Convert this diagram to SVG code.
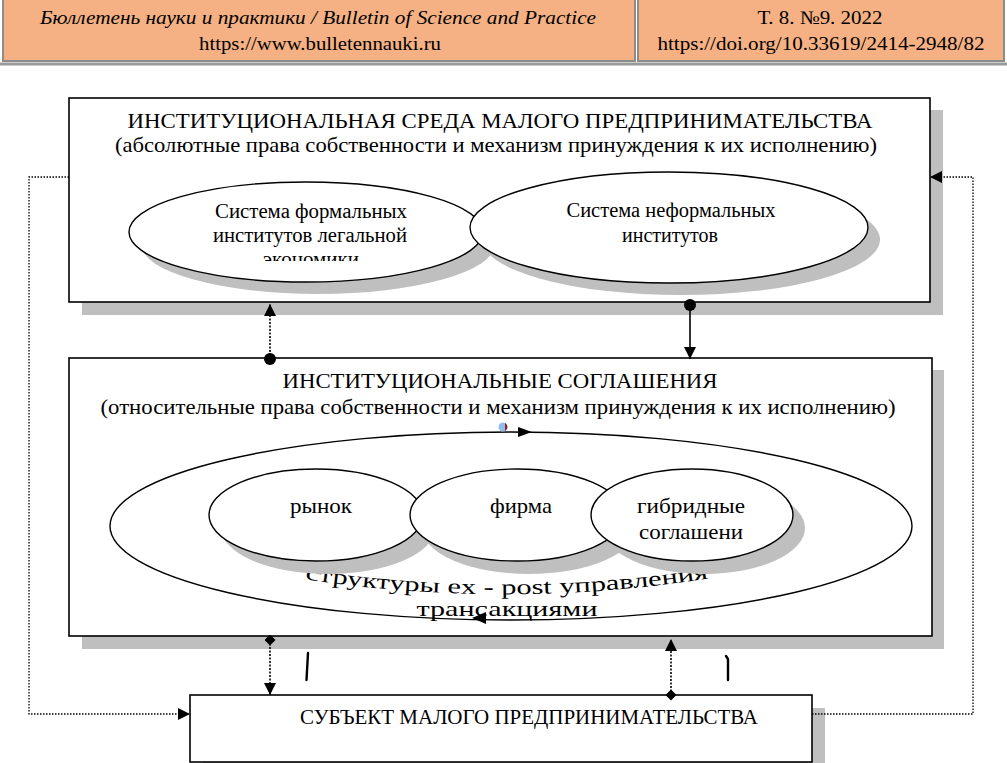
<svg xmlns="http://www.w3.org/2000/svg" width="1007" height="763" viewBox="0 0 1007 763">
<style>
  text { font-family: "Liberation Serif", "Times New Roman", serif; fill: #000; }
  .hdr { font-size: 19px; }
  .box { fill: #fff; stroke: #000; stroke-width: 1.6; }
  .shadow { fill: #bfbfbf; stroke: none; }
  .ell { fill: #fff; stroke: #000; stroke-width: 1.4; }
  .t1 { font-size: 21px; text-anchor: middle; }
  .t2 { font-size: 21px; text-anchor: middle; }
  .lbl { font-size: 20px; text-anchor: middle; }
  .lbl2 { font-size: 22px; text-anchor: middle; }
  .dot { fill: none; stroke: #000; stroke-width: 1.3; stroke-dasharray: 1.5 1.5; }
  .dotv { fill: none; stroke: #000; stroke-width: 1.6; stroke-dasharray: 2 1.5; }
  .solid { fill: none; stroke: #000; stroke-width: 1.6; }
</style>
<defs>
  <marker id="arr" viewBox="0 0 10 10" refX="10" refY="5" markerUnits="userSpaceOnUse" markerWidth="12" markerHeight="12" orient="auto">
    <path d="M0,0 L10,5 L0,10 z" fill="#000"/>
  </marker>
  <marker id="dotm" viewBox="0 0 12 12" refX="6" refY="6" markerUnits="userSpaceOnUse" markerWidth="12" markerHeight="12" orient="auto">
    <circle cx="6" cy="6" r="6" fill="#000"/>
  </marker>
  <marker id="dia" viewBox="0 0 12 12" refX="6" refY="6" markerUnits="userSpaceOnUse" markerWidth="11" markerHeight="11" orient="auto">
    <path d="M0,6 L6,0 L12,6 L6,12 z" fill="#000"/>
  </marker>
  <clipPath id="clipEk"><rect x="130" y="170" width="360" height="91"/></clipPath>
  <path id="curveTxt" d="M303,579 Q507,610 712,578"/>
</defs>

<!-- Header -->
<g id="header">
  <rect x="3" y="-2" width="632" height="63" fill="#f5b183" stroke="#8c8c8c" stroke-width="2"/>
  <rect x="638" y="-2" width="366" height="63" fill="#f5b183" stroke="#8c8c8c" stroke-width="2"/>
  <line x1="0" y1="64" x2="1007" y2="64" stroke="#9a9a9a" stroke-width="3"/>
  <text class="hdr" x="318" y="24" text-anchor="middle" font-style="italic" textLength="556" lengthAdjust="spacingAndGlyphs">Бюллетень науки и практики / Bulletin of Science and Practice</text>
  <text class="hdr" x="320" y="50" text-anchor="middle" textLength="242" lengthAdjust="spacingAndGlyphs">https://www.bulletennauki.ru</text>
  <text class="hdr" x="820" y="24" text-anchor="middle" textLength="125" lengthAdjust="spacingAndGlyphs">Т. 8. №9. 2022</text>
  <text class="hdr" x="821" y="50" text-anchor="middle" textLength="327" lengthAdjust="spacingAndGlyphs">https://doi.org/10.33619/2414-2948/82</text>
</g>

<!-- Top box -->
<g id="node-env">
  <rect class="shadow" x="82" y="110" width="861" height="205"/>
  <rect class="box" x="69" y="98" width="861" height="204"/>
  <text class="t1" x="500" y="128" textLength="745" lengthAdjust="spacingAndGlyphs">ИНСТИТУЦИОНАЛЬНАЯ СРЕДА МАЛОГО ПРЕДПРИНИМАТЕЛЬСТВА</text>
  <text class="t2" x="496" y="152" textLength="762" lengthAdjust="spacingAndGlyphs">(абсолютные права собственности и механизм принуждения к их исполнению)</text>
</g>
<g id="node-formal">
  <ellipse class="shadow" cx="318" cy="244" rx="177" ry="50"/>
  <ellipse class="ell" cx="306" cy="232" rx="177" ry="50"/>
  <text class="lbl" x="311" y="218" textLength="192" lengthAdjust="spacingAndGlyphs">Система формальных</text>
  <text class="lbl" x="310" y="242" textLength="194" lengthAdjust="spacingAndGlyphs">институтов легальной</text>
  <text class="lbl" x="311" y="266" textLength="96" lengthAdjust="spacingAndGlyphs" clip-path="url(#clipEk)">экономики</text>
</g>
<g id="node-informal">
  <ellipse class="shadow" cx="681" cy="239.5" rx="199" ry="55.5"/>
  <ellipse class="ell" cx="669" cy="227.5" rx="199" ry="55.5"/>
  <text class="lbl" x="671" y="217" textLength="209" lengthAdjust="spacingAndGlyphs">Система неформальных</text>
  <text class="lbl" x="670" y="242" textLength="96" lengthAdjust="spacingAndGlyphs">институтов</text>
</g>

<!-- Middle box -->
<g id="node-agreements">
  <rect class="shadow" x="82" y="370" width="862" height="279"/>
  <rect class="box" x="69" y="358" width="863" height="278"/>
  <text class="t1" x="500" y="388" textLength="435" lengthAdjust="spacingAndGlyphs">ИНСТИТУЦИОНАЛЬНЫЕ СОГЛАШЕНИЯ</text>
  <text class="t2" x="498" y="414" textLength="795" lengthAdjust="spacingAndGlyphs">(относительные права собственности и механизм принуждения к их исполнению)</text>
</g>
<g id="node-governance">
  <ellipse class="ell" cx="511" cy="526" rx="401" ry="94" fill="none"/>
  <polygon points="532,432 518,427 518,437" fill="#000"/>
  <polygon points="472,618 486,612 486,624" fill="#000"/>
  <circle cx="503" cy="427" r="4.5" fill="#8fbfee"/>
  <path d="M505,423 A4.5,4.5 0 0 1 505,431 Z" fill="#9b1c1c"/>
  <text font-size="21" textLength="405" lengthAdjust="spacingAndGlyphs"><textPath href="#curveTxt" startOffset="2">структуры ex - post управления</textPath></text>
  <text x="507" y="616" font-size="21" text-anchor="middle" textLength="181" lengthAdjust="spacingAndGlyphs">трансакциями</text>
</g>
<g id="node-market">
  <ellipse class="shadow" cx="328" cy="528" rx="107" ry="46"/>
  <ellipse class="ell" cx="316" cy="515" rx="107" ry="46"/>
  <text class="lbl2" x="321" y="513" textLength="62" lengthAdjust="spacingAndGlyphs">рынок</text>
</g>
<g id="node-firm">
  <ellipse class="shadow" cx="529" cy="528" rx="107" ry="46"/>
  <ellipse class="ell" cx="517" cy="515" rx="107" ry="46"/>
  <text class="lbl2" x="521" y="513" textLength="62" lengthAdjust="spacingAndGlyphs">фирма</text>
</g>
<g id="node-hybrid">
  <ellipse class="shadow" cx="704" cy="528" rx="101" ry="46"/>
  <ellipse class="ell" cx="692" cy="515" rx="101" ry="46"/>
  <text class="lbl2" x="691" y="513" textLength="108" lengthAdjust="spacingAndGlyphs">гибридные</text>
  <text class="lbl2" x="691" y="539" textLength="104" lengthAdjust="spacingAndGlyphs">соглашени</text>
</g>

<!-- Bottom box -->
<g id="node-subject">
  <rect class="shadow" x="203" y="708" width="622" height="60"/>
  <rect class="box" x="190" y="695" width="622" height="67"/>
  <text x="529" y="724" font-size="20" text-anchor="middle" textLength="458" lengthAdjust="spacingAndGlyphs">СУБЪЕКТ МАЛОГО ПРЕДПРИНИМАТЕЛЬСТВА</text>
</g>

<!-- Connectors -->
<g id="connectors">
  <path class="dotv" d="M270,359 L270,304" marker-start="url(#dotm)" marker-end="url(#arr)"/>
  <path class="solid" d="M690,305 L690,359" marker-start="url(#dotm)" marker-end="url(#arr)"/>
  <path class="dotv" d="M270,640 L270,695" marker-start="url(#dia)" marker-end="url(#arr)"/>
  <path class="dotv" d="M671,695 L671,639" marker-start="url(#dia)" marker-end="url(#arr)"/>
  <path class="dot" d="M69,177 H29 V714 H190" marker-end="url(#arr)"/>
  <path class="dot" d="M812,714 H973 V177 H930" marker-end="url(#arr)"/>
  <path d="M308,653 L306.5,680" stroke="#000" stroke-width="2.4" stroke-linecap="round" fill="none"/>
  <path d="M726,656 L728,659 L728,680" stroke="#000" stroke-width="2.4" stroke-linecap="round" fill="none"/>
</g>
</svg>
